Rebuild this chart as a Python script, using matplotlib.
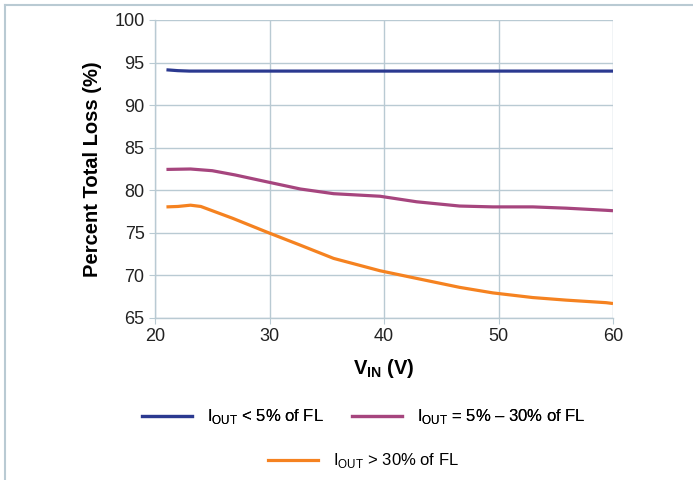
#!/usr/bin/env python3
"""Percent total loss vs. input voltage for three load ranges."""

import matplotlib
matplotlib.use("Agg")
import matplotlib.pyplot as plt
from matplotlib.lines import Line2D

plt.rcParams["font.family"] = ["Liberation Sans", "DejaVu Sans"]
plt.rcParams["mathtext.fontset"] = "custom"
plt.rcParams["mathtext.rm"] = "Liberation Sans"
plt.rcParams["mathtext.bf"] = "Liberation Sans:bold"

# --- data ---
vin_low = [21, 22, 23, 25, 30, 40, 50, 60]
loss_low = [94.15, 94.05, 94.0, 94.0, 94.0, 94.0, 94.0, 94.0]

vin_mid = [21, 23.1, 25, 27, 29.75, 32.7, 35.6, 39.65, 42.85, 46.6, 49.5, 53, 55.9, 59.4, 60]
loss_mid = [82.45, 82.5, 82.3, 81.8, 81.0, 80.15, 79.6, 79.3, 78.65, 78.15, 78.05, 78.05, 77.9, 77.65, 77.6]

vin_high = [21, 22, 23.1, 24, 26.8, 29.75, 32.7, 35.6, 39.65, 42.85, 46.6, 49.5, 53, 55.9, 59.4, 60]
loss_high = [78.05, 78.1, 78.25, 78.1, 76.7, 75.1, 73.55, 72.0, 70.55, 69.65, 68.6, 67.95, 67.4, 67.1, 66.8, 66.7]

X_TICKS = [20, 30, 40, 50, 60]
Y_TICKS = [65, 70, 75, 80, 85, 90, 95, 100]

LABELS = [
    r"I$_{\mathrm{OUT}}$ < 5% of FL",
    r"I$_{\mathrm{OUT}}$ = 5% – 30% of FL",
    r"I$_{\mathrm{OUT}}$ > 30% of FL",
]
COLORS = ["#2b3990", "#a6457e", "#f58220"]
GRID_COLOR = "#b9cad3"


fig = plt.figure(figsize=(6.93, 4.80), dpi=100)
ax = fig.add_axes([155 / 693, 1 - 318 / 480, 458 / 693, 298 / 480])

series = [(vin_low, loss_low), (vin_mid, loss_mid), (vin_high, loss_high)]
for (xs, ys), color in zip(series, COLORS):
    ax.plot(xs, ys, color=color, linewidth=2.3, solid_capstyle="butt")

ax.set_xlim(20, 60)
ax.set_ylim(65, 100)
ax.set_xticks(X_TICKS)
ax.set_yticks(Y_TICKS)
ax.grid(True, color=GRID_COLOR, linewidth=1.0)
ax.set_axisbelow(True)
for side in ["top", "right"]:
    ax.spines[side].set_visible(False)
for side in ["left", "bottom"]:
    ax.spines[side].set_color(GRID_COLOR)
    ax.spines[side].set_linewidth(1.0)
ax.tick_params(axis="both", labelsize=13, length=4, labelcolor="#222222", color=GRID_COLOR)

ax.set_ylabel("Percent Total Loss (%)", fontsize=14.5, fontweight="bold", labelpad=9)
ax.set_xlabel(r"V$_{\mathbf{IN}}$ (V)", fontsize=14.5, fontweight="bold", labelpad=8)

handles = [Line2D([], [], color=c, linewidth=2.3) for c in COLORS]
leg1 = fig.legend(
    handles[:2], LABELS[:2], loc="center", bbox_to_anchor=(0.525, 1 - 417 / 480),
    ncol=2, frameon=False, fontsize=12, handlelength=3.0, handletextpad=0.9, columnspacing=1.7,
)
fig.add_artist(leg1)
fig.legend(
    handles[2:], LABELS[2:], loc="center", bbox_to_anchor=(0.525, 1 - 461 / 480),
    frameon=False, fontsize=12, handlelength=3.0, handletextpad=0.9,
)

# thin frame on the left and top of the figure
fig.add_artist(Line2D([4.5 / 693, 4.5 / 693], [0, 1 - 4.5 / 480], color=GRID_COLOR, linewidth=1.5))
fig.add_artist(Line2D([4.5 / 693, 1], [1 - 4.5 / 480, 1 - 4.5 / 480], color=GRID_COLOR, linewidth=1.5))

fig.savefig("out.png", dpi=100)
